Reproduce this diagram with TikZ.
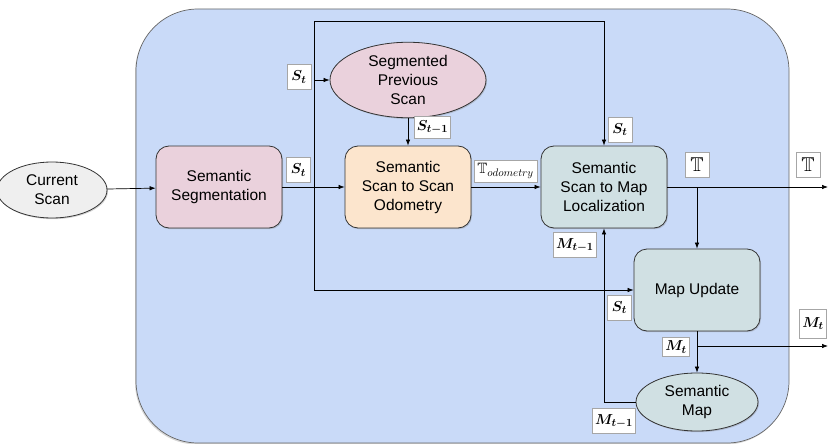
\documentclass[tikz,border=0pt]{standalone}
\usepackage{amsmath,amssymb}
\usepackage{fontspec}
\setmainfont{Liberation Sans}
\usetikzlibrary{shapes.geometric,arrows.meta,shadows}
\definecolor{bgblue}{HTML}{C9DAF8}
\definecolor{segpink}{HTML}{EAD1DC}
\definecolor{odoorange}{HTML}{FCE5CD}
\definecolor{mapgray}{HTML}{D0E0E3}
\definecolor{scangray}{HTML}{EFEFEF}

\begin{document}
\begin{tikzpicture}[x=1pt,y=-1pt,
  >={Latex[length=6pt,width=4.5pt]},
  every node/.style={inner sep=2pt,align=center,
    font=\fontsize{15.5}{19}\selectfont},
  every path/.style={line width=0.7pt},
  softshadow/.style={drop shadow={opacity=0.35,shadow xshift=1pt,shadow yshift=-1.2pt}},
  block/.style={draw=black!80,line width=0.8pt,rounded corners=13pt,
    minimum width=126pt,minimum height=82pt,softshadow},
  oval/.style={ellipse,draw=black!80,line width=0.8pt,softshadow},
  tag/.style={draw=black!35,fill=white,inner sep=2.5pt,minimum width=24pt,
    minimum height=25pt,font=\fontsize{15}{17}\selectfont,
    drop shadow={opacity=0.25,shadow xshift=0.8pt,shadow yshift=-0.8pt}}]
\useasboundingbox (0,0) rectangle (828,444);

% pipeline frame
\draw[draw=black!60,fill=bgblue,rounded corners=62pt,
  drop shadow={opacity=0.3,shadow xshift=-1pt,shadow yshift=-1.5pt}]
  (136,9) rectangle (789,443);

% blocks
\node[oval,fill=scangray,minimum width=110pt,minimum height=56pt] (cur) at (52,190) {Current\\Scan};
\node[block,fill=segpink] (seg) at (219,187) {Semantic\\Segmentation};
\node[block,fill=odoorange] (odo) at (408,187) {Semantic\\Scan to Scan\\Odometry};
\node[block,fill=mapgray] (loc) at (604,187) {Semantic\\Scan to Map\\Localization};
\node[block,fill=mapgray] (mapup) at (697,290) {Map Update};
\node[oval,fill=segpink,minimum width=156pt,minimum height=64pt] (prev) at (408,80) {Segmented\\Previous\\Scan};
\node[oval,fill=mapgray,minimum width=122pt,minimum height=58pt] (smap) at (697,402) {Semantic\\Map};

% junctions and outputs
\coordinate (j) at (314,187);
\coordinate (top) at (314,21);
\coordinate (outT) at (828,187);
\coordinate (outM) at (828,346);

% connectors
\draw[->] (cur)--(seg);
\draw (seg)--(j);
\draw[->] (j)--(odo);
\draw[->] (j)--(top) -| (loc);
\draw[->] (j) |- (prev);
\draw[->] (j) |- (mapup);
\draw[->] (prev)--(odo);
\draw[->] (odo)--(loc);
\draw[->] (loc)--(outT);
\draw[->] (loc.east -| mapup) -- (mapup);
\draw[->] (mapup)--(smap);
\draw[->] (mapup.south |- outM) -- (outM);
\draw[->] (smap) -| (loc);

% labels
\node[tag] (sseg) at (298.5,170) {$\boldsymbol{S_t}$};
\node[tag] (sprev) at (299,77) {$\boldsymbol{S_t}$};
\node[tag,minimum height=22pt] (slast) at (432.5,127) {$\boldsymbol{S_{t-1}}$};
\node[tag,minimum height=22pt,minimum width=63pt] (todo) at (505.5,171) {$\mathbb{T}_{odometry}$};
\node[tag] (sloc) at (620,129.5) {$\boldsymbol{S_t}$};
\node[tag,font=\fontsize{20}{22}\selectfont] (tloc) at (697,165) {$\mathbb{T}$};
\node[tag,font=\fontsize{20}{22}\selectfont] (tout) at (808,165) {$\mathbb{T}$};
\node[tag] (mloc) at (575,245) {$\boldsymbol{M_{t-1}}$};
\node[tag] (smu) at (619.5,307.5) {$\boldsymbol{S_t}$};
\node[tag,minimum height=19pt] (mmu) at (676,347) {$\boldsymbol{M_t}$};
\node[tag,minimum height=29pt] (mout) at (813,323.5) {$\boldsymbol{M_t}$};
\node[tag] (mmap) at (614,421) {$\boldsymbol{M_{t-1}}$};
\end{tikzpicture}
\end{document}
